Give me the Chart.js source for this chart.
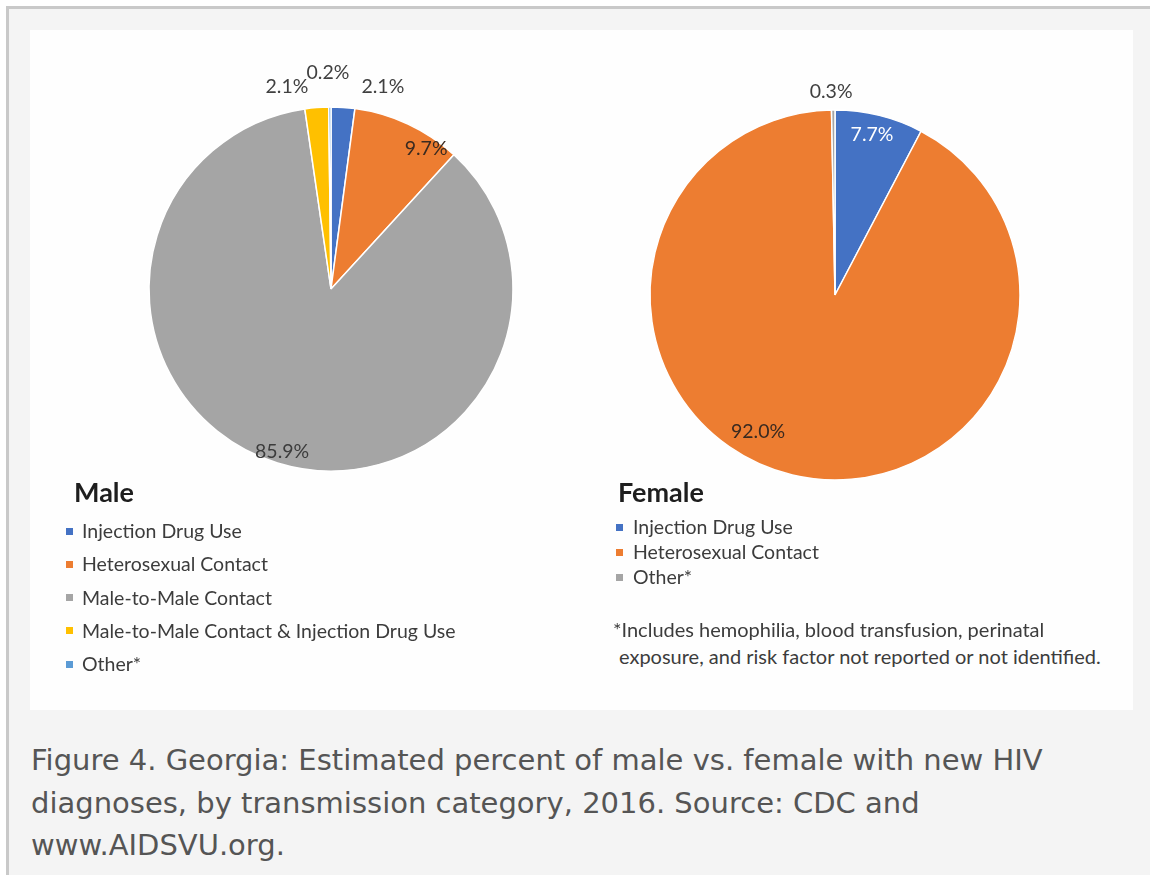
<!DOCTYPE html>
<html>
<head>
<meta charset="utf-8">
<script src="https://cdn.jsdelivr.net/npm/chart.js@4"></script>
<style>
  html, body { margin: 0; padding: 0; background: #ffffff; width: 1150px; height: 875px; overflow: hidden; }
  #frame { position: absolute; left: 6px; top: 6px; width: 1141px; height: 866px; background: #f4f4f4;
           border-top: 3px solid #c9c9c9; border-left: 3px solid #c9c9c9; }
  #panel { position: absolute; left: 30px; top: 30px; width: 1103px; height: 680px; background: #fefefe; }
  canvas { position: absolute; }
  .t { position: absolute; white-space: nowrap; font-family: Lato, "Open Sans", sans-serif; color: #3c3c3c; }
  .title { font-weight: bold; font-size: 27px; line-height: 32px; color: #1e1e1e; }
  .item { font-size: 19.5px; line-height: 24px; }
  .sq { position: absolute; width: 7px; height: 7px; }
  .note { font-size: 20px; line-height: 24px; }
  #caption { position: absolute; left: 31px; top: 739px; width: 1090px; font-family: "DejaVu Sans", sans-serif;
             font-size: 29px; line-height: 42.5px; color: #555555; }
</style>
</head>
<body>
<div id="frame"></div>
<div id="panel"></div>
<canvas id="male" width="520" height="520" style="left:71px;top:29px;width:520px;height:520px"></canvas>
<canvas id="female" width="520" height="520" style="left:575px;top:35px;width:520px;height:520px"></canvas>
<div id="legends"></div>
<div id="caption">Figure 4. Georgia: Estimated percent of male vs. female with new HIV diagnoses, by transmission category, 2016. Source: CDC and www.AIDSVU.org.</div>
<script>
// ---- Data ----
const maleCategories = ['Injection Drug Use', 'Heterosexual Contact', 'Male-to-Male Contact', 'Male-to-Male Contact & Injection Drug Use', 'Other*'];
const maleValues = [2.1, 9.7, 85.9, 2.1, 0.2];
const femaleCategories = ['Injection Drug Use', 'Heterosexual Contact', 'Other*'];
const femaleValues = [7.7, 92.0, 0.3];
const footnoteLines = ['*Includes hemophilia, blood transfusion, perinatal', ' exposure, and risk factor not reported or not identified.'];

// ---- Styles ----
const maleColors = ['#4472c4', '#ed7d31', '#a5a5a5', '#ffc000', '#5b9bd5'];
const femaleColors = ['#4472c4', '#ed7d31', '#a5a5a5'];

// label placement: angle (deg clockwise from top) and distance as fraction of radius
const maleLabelPlace = [
  { angle: 14.4, dist: 1.146, color: '#404040' },
  { angle: 34.2, dist: 0.93, color: '#3a2a20' },
  { angle: 196.7, dist: 0.935, color: '#3c3c3c' },
  { angle: 347.7, dist: 1.136, color: '#404040' },
  { angle: 359.2, dist: 1.19, color: '#404040' }
];
const femaleLabelPlace = [
  { angle: 13.0, dist: 0.89, color: '#ffffff' },
  { angle: 209.3, dist: 0.85, color: '#3a2a20' },
  { angle: 358.9, dist: 1.10, color: '#404040' }
];

const pieLabels = {
  id: 'pieLabels',
  afterDatasetsDraw(chart, args, opts) {
    const meta = chart.getDatasetMeta(0);
    const data = chart.data.datasets[0].data;
    const ctx = chart.ctx;
    ctx.save();
    ctx.font = '19.5px Lato, "Open Sans", sans-serif';
    ctx.textAlign = 'center';
    ctx.textBaseline = 'middle';
    meta.data.forEach((arc, i) => {
      const p = opts.place[i];
      const r = arc.outerRadius * p.dist;
      const a = (p.angle - 90) * Math.PI / 180;
      ctx.fillStyle = p.color;
      ctx.fillText(data[i].toFixed(1) + '%', arc.x + r * Math.cos(a), arc.y + r * Math.sin(a));
    });
    ctx.restore();
  }
};

function makePie(id, labels, values, colors, radius, place) {
  return new Chart(document.getElementById(id), {
    type: 'pie',
    data: { labels: labels, datasets: [{ data: values, backgroundColor: colors, borderColor: '#ffffff', borderWidth: 1.5, radius: radius }] },
    options: {
      responsive: false, animation: false,
      layout: { padding: 0 },
      plugins: { legend: { display: false }, tooltip: { enabled: false }, pieLabels: { place: place } }
    },
    plugins: [pieLabels]
  });
}
makePie('male', maleCategories, maleValues, maleColors, 182, maleLabelPlace);
makePie('female', femaleCategories, femaleValues, femaleColors, 185, femaleLabelPlace);

// ---- HTML legends ----
const L = document.getElementById('legends');
function addText(cls, txt, x, yCenter, lh) {
  const d = document.createElement('div');
  d.className = 't ' + cls;
  d.textContent = txt;
  d.style.left = x + 'px';
  d.style.top = (yCenter - lh / 2) + 'px';
  L.appendChild(d);
}
function addLegend(title, cats, colors, x, titleY, firstY, step) {
  addText('title', title, x.title, titleY, 32);
  cats.forEach((c, i) => {
    const y = firstY + i * step;
    const s = document.createElement('div');
    s.className = 'sq';
    s.style.left = x.sq + 'px';
    s.style.top = (y - 3.5) + 'px';
    s.style.background = colors[i];
    L.appendChild(s);
    addText('item', c, x.text, y, 24);
  });
}
addLegend('Male', maleCategories, maleColors, { title: 74, sq: 66, text: 82 }, 492, 531, 33.3);
addLegend('Female', femaleCategories, femaleColors, { title: 618, sq: 616, text: 633 }, 492, 527, 25);
addText('note', footnoteLines[0], 613, 629, 24);
addText('note', footnoteLines[1], 619, 656, 24);
</script>
</body>
</html>
